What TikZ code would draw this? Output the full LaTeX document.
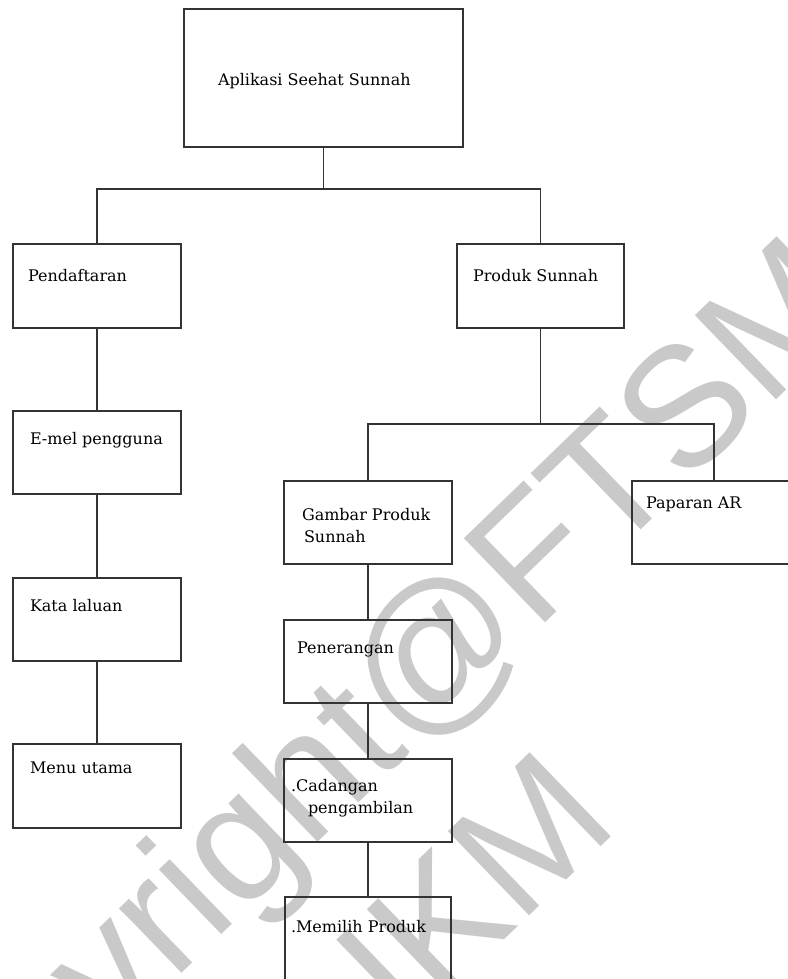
\documentclass[tikz,border=0pt]{standalone}
\usepackage{fontspec}
\setmainfont{DejaVu Serif}
\newfontfamily\wmfont{Liberation Sans}
\begin{document}
\begin{tikzpicture}[x=1pt,y=-1pt,
  box/.style={draw=black!80, line width=1.1pt, rectangle, inner sep=0pt, outer sep=0pt, fill=none},
  conn/.style={draw=black!80, line width=1.1pt},
  lbl/.style={inner sep=0pt, outer sep=0pt, anchor=base west, font=\fontsize{16}{19}\selectfont, text=black},
  wm/.style={inner sep=0pt, anchor=base, rotate=44, text=black!21, font=\wmfont\fontsize{170}{190}\selectfont}]
\useasboundingbox (0,0) rectangle (787,979);
\fill[white] (0,0) rectangle (787,979);
% watermark
\node[wm] (wm1) at (378,784) {Copyright@FTSM};
\node[wm] (wm2) at (486,958) {UKM};
% boxes
\node[box, minimum width=279pt, minimum height=138pt] (top) at (323.5,78) {};
\node[box, minimum width=168pt, minimum height=84pt] (pend) at (97,286) {};
\node[box, minimum width=167pt, minimum height=84pt] (prod) at (540.5,286) {};
\node[box, minimum width=168pt, minimum height=83pt] (emel) at (97,452.5) {};
\node[box, minimum width=168pt, minimum height=83pt] (kata) at (97,619.5) {};
\node[box, minimum width=168pt, minimum height=84pt] (menu) at (97,786) {};
\node[box, minimum width=168pt, minimum height=83pt] (gamb) at (368,522.5) {};
\node[box, minimum width=164pt, minimum height=83pt] (pap) at (714,522.5) {};
\node[box, minimum width=168pt, minimum height=83pt] (pen) at (368,661.5) {};
\node[box, minimum width=168pt, minimum height=83pt] (cad) at (368,800.5) {};
\node[box, minimum width=166pt, minimum height=90pt] (mem) at (368,942) {};
% junctions
\coordinate (j1) at (323.5,189);
\coordinate (j2) at (540.5,424);
% connectors
\draw[conn] (top.south) -- (j1);
\draw[conn] (pend.north) -- (pend.north |- j1) -- (prod.north |- j1) -- (prod.north);
\draw[conn] (prod.south) -- (j2);
\draw[conn] (gamb.north) -- (gamb.north |- j2) -- (pap.north |- j2) -- (pap.north);
\draw[conn] (pend.south) -- (emel.north);
\draw[conn] (emel.south) -- (kata.north);
\draw[conn] (kata.south) -- (menu.north);
\draw[conn] (gamb.south) -- (pen.north);
\draw[conn] (pen.south) -- (cad.north);
\draw[conn] (cad.south) -- (mem.north);
% labels
\node[lbl] (tTop) at (218,86) {Aplikasi Seehat Sunnah};
\node[lbl] (tPend) at (28,281) {Pendaftaran};
\node[lbl] (tProd) at (473,281) {Produk Sunnah};
\node[lbl] (tEmel) at (30,444) {E-mel pengguna};
\node[lbl] (tKata) at (30,611) {Kata laluan};
\node[lbl] (tMenu) at (30,773) {Menu utama};
\node[lbl] (tGamb1) at (302,520) {Gambar Produk};
\node[lbl] (tGamb2) at (304,542) {Sunnah};
\node[lbl] (tPap) at (646,508) {Paparan AR};
\node[lbl] (tPen) at (297,653) {Penerangan};
\node[lbl] (tCad1) at (291,791) {.Cadangan};
\node[lbl] (tCad2) at (308,813) {pengambilan};
\node[lbl] (tMem) at (291,932) {.Memilih Produk};
\end{tikzpicture}
\end{document}
